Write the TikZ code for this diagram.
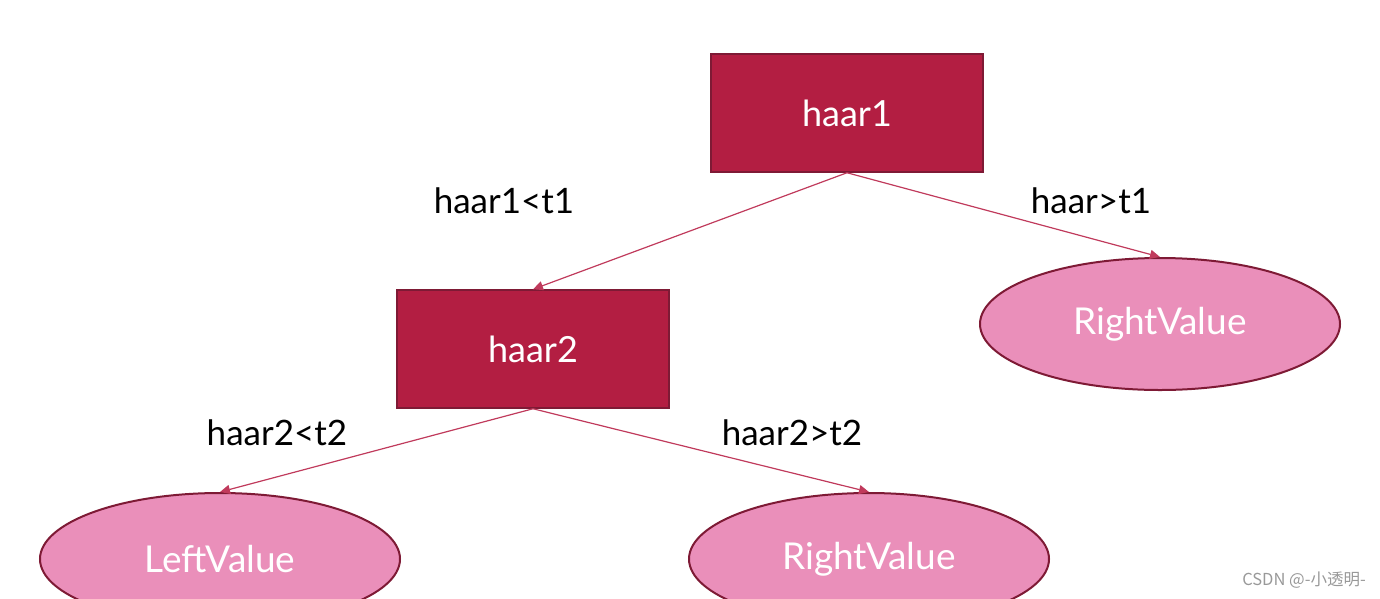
\documentclass[tikz,border=0pt]{standalone}
\usepackage{fontspec}
\setmainfont{Lato}
\newfontfamily\cjk{Noto Sans CJK SC}
\usetikzlibrary{shapes.geometric,arrows.meta}
\definecolor{boxred}{HTML}{B31E42}
\definecolor{edgedark}{HTML}{7E1A35}
\definecolor{leafpink}{HTML}{EA8FBA}
\definecolor{linkred}{HTML}{C03A5C}
\tikzset{
  x=1pt, y=-1pt,
  testbox/.style={rectangle, draw=edgedark, line width=1.5pt, fill=boxred,
    minimum width=272pt, minimum height=118pt, text=white, font=\fontsize{36}{40}\selectfont},
  leaf/.style={ellipse, draw=edgedark, line width=2pt, fill=leafpink,
    minimum width=360pt, minimum height=132pt, text=white, font=\fontsize{37}{40}\selectfont},
  link/.style={draw=linkred, line width=1.2pt, -{Triangle[length=10pt,width=9pt]}},
  cond/.style={text=black, font=\fontsize{35}{40}\selectfont},
}
\begin{document}
\begin{tikzpicture}
\useasboundingbox (0,0) rectangle (1380,598);
\clip (0,0) rectangle (1380,598);
\node[testbox] (h1) at (847,113) {haar1};
\node[testbox] (h2) at (533,349) {haar2};
\node[leaf] (r1) at (1160,324) {RightValue};
\node[leaf] (l2) at (220,559) {\raisebox{-4pt}{LeftValue}};
\node[leaf] (r2) at (869,559) {\raisebox{-4pt}{RightValue}};
\draw[link] (h1.south) -- (h2.north);
\draw[link] (h1.south) -- (r1.north);
\draw[link] (h2.south) -- (l2.north);
\draw[link] (h2.south) -- (r2.north);
\node[cond] (c1) at (504,201) {haar1<t1};
\node[cond] (c2) at (1091,201) {haar>t1};
\node[cond] (c3) at (277,433) {haar2<t2};
\node[cond] (c4) at (792,433) {haar2>t2};
\node[text=gray!80, font=\cjk\fontsize{16.5}{20}\selectfont] (wm) at (1304,580) {CSDN @-小透明-};
\end{tikzpicture}
\end{document}
